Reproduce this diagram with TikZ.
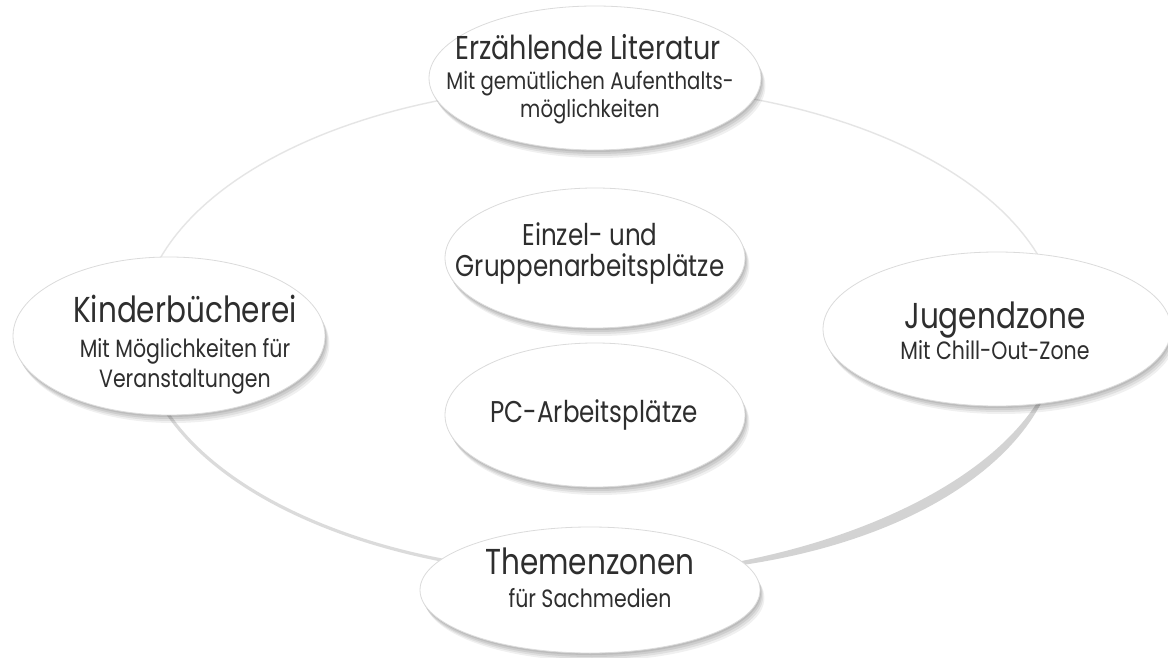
\documentclass[tikz,border=0pt]{standalone}
\usepackage{fontspec}
\setmainfont{Poppins}[FakeStretch=0.82]
\usetikzlibrary{shapes.geometric,shadows}
\tikzset{
  bubble/.style={ellipse, draw=gray!28, line width=0.4pt, fill=white, inner sep=0pt,
    general shadow={fill=black, opacity=.08, shadow xshift=0.5pt, shadow yshift=-1.0pt},
    general shadow={fill=black, opacity=.08, shadow xshift=1.0pt, shadow yshift=-2.0pt},
    general shadow={fill=black, opacity=.07, shadow xshift=1.6pt, shadow yshift=-3.0pt},
    general shadow={fill=black, opacity=.06, shadow xshift=2.2pt, shadow yshift=-4.0pt}},
  lbl/.style={inner sep=0pt, anchor=base, text=black!82},
  ttl/.style={lbl, font=\fontsize{18}{20}\selectfont},
  sub/.style={lbl, font=\fontsize{12.5}{14}\selectfont},
  mid/.style={lbl, font=\fontsize{15}{17}\selectfont},
  ringthin/.style={draw=gray!20, line width=0.7pt},
  ringmid/.style={draw=gray!28, line width=1.6pt}
}
\begin{document}
\begin{tikzpicture}[x=0.5pt,y=-0.5pt]
\useasboundingbox (0,0) rectangle (1168,658);
\fill[white] (0,0) rectangle (1168,658);
% ring
\draw[ringthin] plot[domain=185:265, samples=50] ({600+460*cos(\x)},{330+245*sin(\x)});
\draw[ringthin] plot[domain=275:355, samples=50] ({600+460*cos(\x)},{330+245*sin(\x)});
\draw[ringmid] plot[domain=100:170, samples=50] ({600+460*cos(\x)},{330+245*sin(\x)});
\fill[gray!42, opacity=.8] plot[domain=8:82, samples=60] ({600+(460+5*sin((\x-8)*180/74))*cos(\x)},{330+(245+5*sin((\x-8)*180/74))*sin(\x)})
  -- plot[domain=82:8, samples=60] ({600+(460-5*sin((\x-8)*180/74))*cos(\x)},{330+(245-5*sin((\x-8)*180/74))*sin(\x)}) -- cycle;
% bubbles
\node[bubble, minimum width=166pt, minimum height=72pt] (lit) at (595,78) {};
\node[bubble, minimum width=150pt, minimum height=70pt] (einz) at (595,258) {};
\node[bubble, minimum width=150pt, minimum height=72pt] (pc) at (595,415) {};
\node[bubble, minimum width=170pt, minimum height=63pt] (them) at (590,590) {};
\node[bubble, minimum width=156pt, minimum height=79pt] (kind) at (169,336) {};
\node[bubble, minimum width=174pt, minimum height=77pt] (jug) at (997,329) {};
% texts
\node[ttl, font=\fontsize{16.5}{18}\selectfont] (litA) at (588,60) {Erzählende Literatur};
\node[sub, font=\fontsize{12}{14}\selectfont] (litB) at (590,90) {Mit gemütlichen Aufenthalts-};
\node[sub, font=\fontsize{12}{14}\selectfont] (litC) at (590,118) {möglichkeiten};
\node[mid] (einzA) at (590,245) {Einzel- und};
\node[mid] (einzB) at (590,276) {Gruppenarbeitsplätze};
\node[mid] (pcA) at (594,422) {PC-Arbeitsplätze};
\node[ttl] (kindA) at (185,322) {Kinderbücherei};
\node[sub] (kindB) at (185,357) {Mit Möglichkeiten für};
\node[sub] (kindC) at (185,387) {Veranstaltungen};
\node[ttl] (jugA) at (995,328) {Jugendzone};
\node[sub] (jugB) at (995,359) {Mit Chill-Out-Zone};
\node[ttl] (themA) at (590,574) {Themenzonen};
\node[sub] (themB) at (590,607) {für Sachmedien};
\end{tikzpicture}
\end{document}
